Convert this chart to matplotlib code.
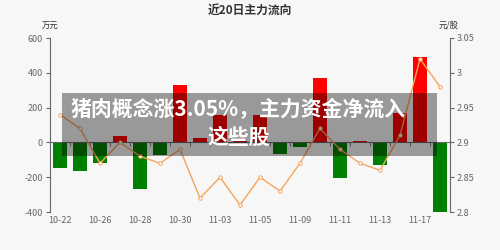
import numpy as np
import matplotlib.pyplot as plt

plt.rcParams['font.family'] = ['Noto Sans CJK SC', 'DejaVu Sans']

dates = ['10-22', '10-23', '10-26', '10-27', '10-28', '10-29', '10-30', '11-02',
         '11-03', '11-04', '11-05', '11-06', '11-09', '11-10', '11-11', '11-12',
         '11-13', '11-16', '11-17', '11-18']
# main net inflow (万元)
flow = [-148, -167, -117, 35, -265, -73, 329, 27, 156, 8, 156, -69, -27, 369,
        -204, 8, -131, 167, 492, -400]
# closing price (元/股)
price = [2.94, 2.92, 2.87, 2.90, 2.88, 2.87, 2.89, 2.82, 2.85, 2.81, 2.85, 2.83,
         2.87, 2.92, 2.89, 2.87, 2.86, 2.91, 3.02, 2.98]
left_ticks = [600, 400, 200, 0, -200, -400]
right_ticks = [3.05, 3.0, 2.95, 2.9, 2.85, 2.8]
right_labels = ['3.05', '3', '2.95', '2.9', '2.85', '2.8']

bg = '#f7f7f7'
axis_col = '#666666'
fig = plt.figure(figsize=(5, 2.5), dpi=100, facecolor=bg)
ax = fig.add_axes([0.1, 0.152, 0.8, 0.696], facecolor=bg)

x = np.arange(len(dates))
colors = ['#ff0000' if v >= 0 else '#008000' for v in flow]
ax.bar(x, flow, width=0.7, color=colors, zorder=2)
ax.set_xlim(-0.5, len(dates) - 0.5)
ax.set_ylim(-400, 600)
ax.set_yticks(left_ticks)
ax.set_yticklabels([str(t) for t in left_ticks])

for s in ['top', 'right']:
    ax.spines[s].set_visible(False)
ax.spines['left'].set_color(axis_col)
ax.spines['bottom'].set_position(('data', 0))
ax.spines['bottom'].set_color(axis_col)

ax.set_xticks(x[::2])
ax.set_xticklabels(dates[::2])
ax.set_xticks(x[:-1] + 0.5, minor=True)
ax.tick_params(axis='x', which='major', length=0, pad=53, labelsize=6.5, colors=axis_col)
ax.tick_params(axis='x', which='minor', length=3, color=axis_col)
ax.tick_params(axis='y', length=3, labelsize=6.5, colors=axis_col, pad=2)

ax2 = ax.twinx()
ax2.plot(x, price, color='#f7a35c', lw=1, marker='o', ms=2.5,
         markerfacecolor='white', markeredgecolor='#f7a35c', mew=0.7, zorder=3)
ax2.set_ylim(2.8, 3.05)
ax2.set_yticks(right_ticks)
ax2.set_yticklabels(right_labels)
for s in ['top', 'left', 'bottom']:
    ax2.spines[s].set_visible(False)
ax2.spines['right'].set_color(axis_col)
ax2.tick_params(axis='y', length=3, labelsize=6.5, colors=axis_col, pad=2)

fig.text(0.5, 0.96, '近20日主力流向', ha='center', va='center', fontsize=8.5,
         color='#333333', fontweight='bold')
fig.text(0.116, 0.9, '万元', ha='right', va='center', fontsize=6, color='#333333')
fig.text(0.898, 0.9, '元/股', ha='center', va='center', fontsize=6, color='#333333')

# overlay banner
fig.patches.append(plt.Rectangle((0.124, 0.378), 0.75, 0.25, transform=fig.transFigure,
                                 facecolor='black', alpha=0.38, zorder=10))
fig.text(0.477, 0.564, '猪肉概念涨3.05%，主力资金净流入', ha='center', va='center',
         fontsize=15, color='white', fontweight='heavy', zorder=11)
fig.text(0.478, 0.452, '这些股', ha='center', va='center',
         fontsize=15, color='white', fontweight='heavy', zorder=11)

fig.savefig('out.png', dpi=100, facecolor=bg)
